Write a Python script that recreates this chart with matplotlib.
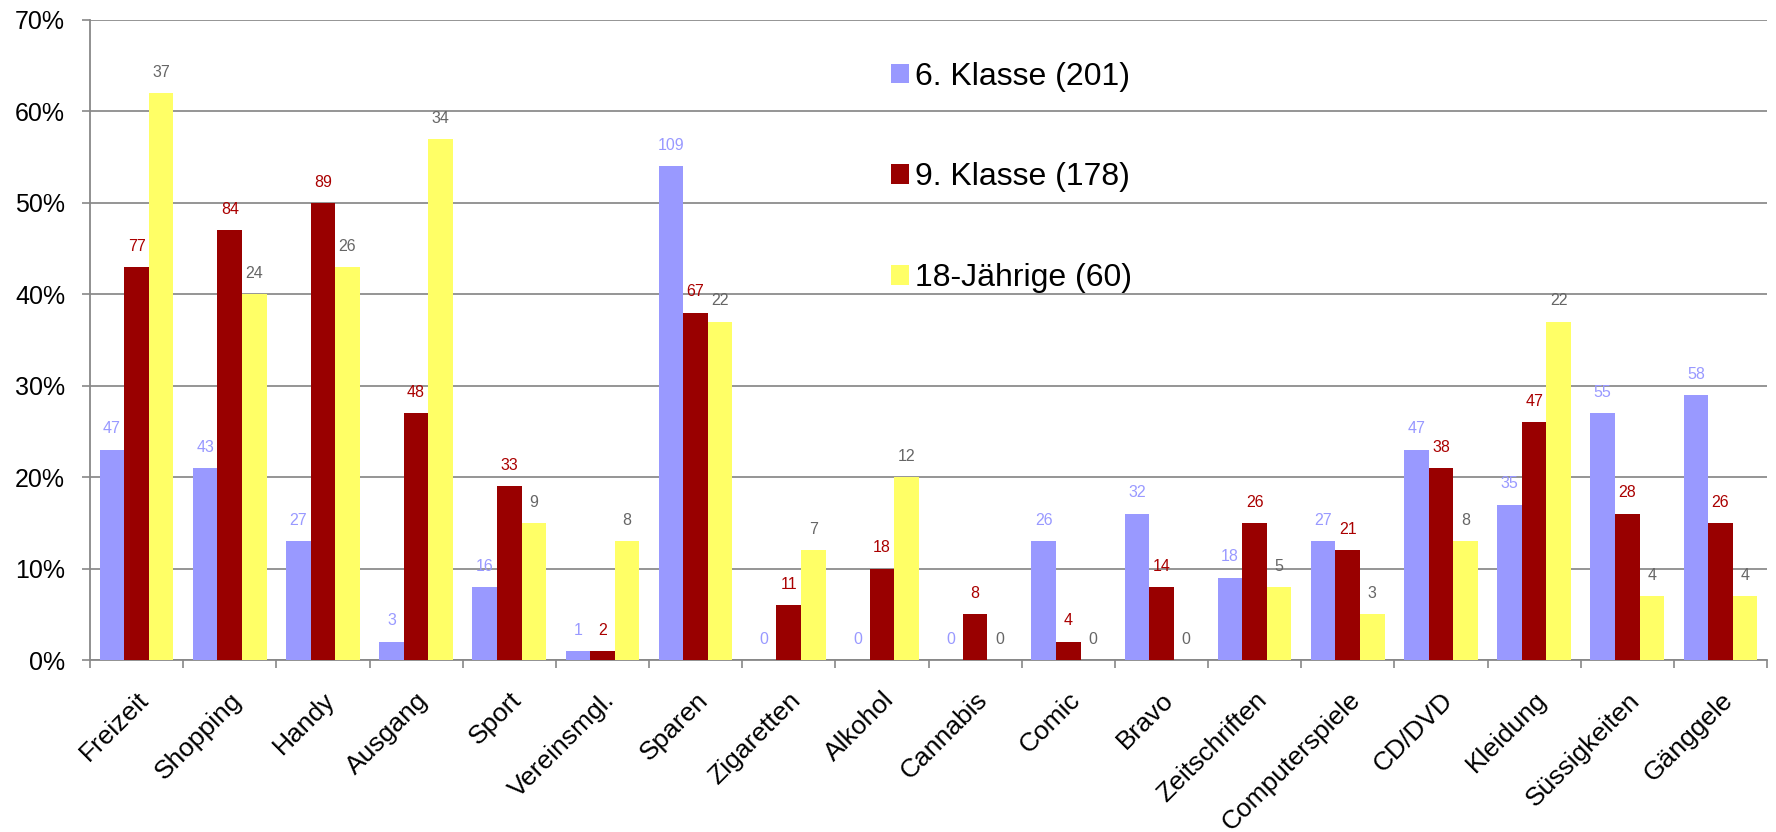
import matplotlib
matplotlib.use("Agg")
import matplotlib.pyplot as plt
from matplotlib.ticker import FixedLocator, PercentFormatter
import numpy as np

plt.rcParams['font.family'] = ['Liberation Sans', 'DejaVu Sans']

kategorien = ['Freizeit', 'Shopping', 'Handy', 'Ausgang', 'Sport', 'Vereinsmgl.',
              'Sparen', 'Zigaretten', 'Alkohol', 'Cannabis', 'Comic', 'Bravo',
              'Zeitschriften', 'Computerspiele', 'CD/DVD', 'Kleidung',
              'Süssigkeiten', 'Gänggele']

serien = ['6. Klasse (201)', '9. Klasse (178)', '18-Jährige (60)']

# Prozent (Balkenhoehe)
prozent_6 = [23, 21, 13, 2, 8, 1, 54, 0, 0, 0, 13, 16, 9, 13, 23, 17, 27, 29]
prozent_9 = [43, 47, 50, 27, 19, 1, 38, 6, 10, 5, 2, 8, 15, 12, 21, 26, 16, 15]
prozent_18 = [62, 40, 43, 57, 15, 13, 37, 12, 20, 0, 0, 0, 8, 5, 13, 37, 7, 7]

# Anzahl Nennungen (Beschriftung)
anzahl_6 = [47, 43, 27, 3, 16, 1, 109, 0, 0, 0, 26, 32, 18, 27, 47, 35, 55, 58]
anzahl_9 = [77, 84, 89, 48, 33, 2, 67, 11, 18, 8, 4, 14, 26, 21, 38, 47, 28, 26]
anzahl_18 = [37, 24, 26, 34, 9, 8, 22, 7, 12, 0, 0, 0, 5, 3, 8, 22, 4, 4]

farben = ['#9999FF', '#990000', '#FFFF66']
label_farben = ['#9999FF', '#AA0000', '#666666']

fig = plt.figure(figsize=(17.76, 8.32), dpi=100)
ax = fig.add_axes([90/1776, 1 - 660/832, (1767 - 90)/1776, (660 - 20)/832])

x = np.arange(len(kategorien))
w = 0.264
for i, (werte, zahlen) in enumerate(zip([prozent_6, prozent_9, prozent_18],
                                        [anzahl_6, anzahl_9, anzahl_18])):
    pos = x + (i - 1) * w
    ax.bar(pos, werte, width=w, color=farben[i], label=serien[i], zorder=3)
    for p, v, n in zip(pos, werte, zahlen):
        ax.annotate(str(n), (p, v), xytext=(0, 15), textcoords='offset points',
                    ha='center', va='center', fontsize=11.5,
                    color=label_farben[i], zorder=4)

ax.set_xlim(-0.5, len(kategorien) - 0.5)
ax.set_ylim(0, 70)
ax.yaxis.set_major_locator(FixedLocator(range(0, 71, 10)))
ax.yaxis.set_major_formatter(PercentFormatter(decimals=0))

ax.set_xticks(x)
ax.set_xticklabels(kategorien, rotation=45, ha='right', va='top',
                   rotation_mode='anchor', fontsize=19)
ax.xaxis.set_minor_locator(FixedLocator(np.arange(-0.5, len(kategorien), 1)))
ax.tick_params(axis='x', which='major', length=0, pad=20)
ax.tick_params(axis='x', which='minor', length=6, width=1.2, color='#888888')
ax.tick_params(axis='y', labelsize=18, length=6, width=1.2, color='#888888', pad=12)

ax.grid(axis='y', color='#8c8c8c', linewidth=1.3, zorder=0)
for s in ['top', 'right']:
    ax.spines[s].set_visible(False)
for s in ['left', 'bottom']:
    ax.spines[s].set_color('#888888')
    ax.spines[s].set_linewidth(1.3)

ax.legend(loc='upper left', bbox_to_anchor=(891/1776, 1 - 61.5/832),
          bbox_transform=fig.transFigure, frameon=False, fontsize=23,
          labelspacing=2.22, handlelength=0.55, handleheight=0.55,
          handletextpad=0.2, borderpad=0, borderaxespad=0)

fig.savefig('out.png', dpi=100)
